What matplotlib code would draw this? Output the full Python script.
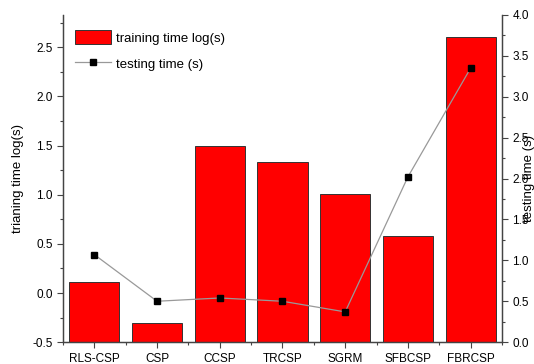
import matplotlib
matplotlib.use('Agg')
import matplotlib.pyplot as plt
from matplotlib.ticker import MultipleLocator, FixedLocator

plt.rcParams['font.family'] = ['Liberation Sans', 'DejaVu Sans']

methods = ['RLS-CSP', 'CSP', 'CCSP', 'TRCSP', 'SGRM', 'SFBCSP', 'FBRCSP']
train_log = [0.11, -0.30, 1.50, 1.33, 1.01, 0.58, 2.61]   # training time log(s)
test_time = [1.07, 0.50, 0.54, 0.50, 0.37, 2.02, 3.35]    # testing time (s)

base = -0.5
x = list(range(len(methods)))

fig = plt.figure(figsize=(5.34, 3.64), dpi=100)
ax = fig.add_axes([0.118, 0.060, 0.822, 0.899])
ax2 = ax.twinx()

# 막대는 축 아래쪽(-0.5)에서 시작
bars = ax.bar(x, [v - base for v in train_log], bottom=base, width=0.8,
              color='#ff0000', edgecolor='#333333', linewidth=0.7,
              label='training time log(s)')
line, = ax2.plot(x, test_time, color='#999999', linewidth=0.9,
                 marker='s', markersize=5, markerfacecolor='black',
                 markeredgecolor='black', label='testing time (s)')

ax.set_xlim(-0.5, 6.5)
ax.set_ylim(-0.5, 2.83)
ax2.set_ylim(0, 4.0)

ax.set_xticks(x)
ax.set_xticklabels(methods, fontsize=8.5)
ax.xaxis.set_minor_locator(FixedLocator([i + 0.5 for i in range(-1, 7)]))
ax.yaxis.set_major_locator(MultipleLocator(0.5))
ax.yaxis.set_minor_locator(MultipleLocator(0.25))
ax2.yaxis.set_major_locator(MultipleLocator(0.5))
ax2.yaxis.set_minor_locator(MultipleLocator(0.25))

for a in (ax, ax2):
    a.spines['top'].set_visible(False)
    for s in a.spines.values():
        s.set_color('#444444')
        s.set_linewidth(0.9)
    a.tick_params(which='major', direction='out', length=4, width=0.8,
                  colors='#444444', labelcolor='black', labelsize=8.5)
    a.tick_params(which='minor', direction='out', length=2.5, width=0.8,
                  colors='#444444')

ax.yaxis.set_major_formatter(plt.FormatStrFormatter('%.1f'))
ax2.yaxis.set_major_formatter(plt.FormatStrFormatter('%.1f'))

ax.set_ylabel('trianing time log(s)', fontsize=9.5, labelpad=6)
ax2.set_ylabel('testing time (s)', fontsize=9.5, labelpad=-4)

ax.legend([bars, line], ['training time log(s)', 'testing time (s)'],
          loc='upper left', bbox_to_anchor=(0.0, 0.99), frameon=False,
          fontsize=9.5, handlelength=2.7, handleheight=1.3,
          labelspacing=0.9, handletextpad=0.4)

fig.savefig('out.png', dpi=100)
